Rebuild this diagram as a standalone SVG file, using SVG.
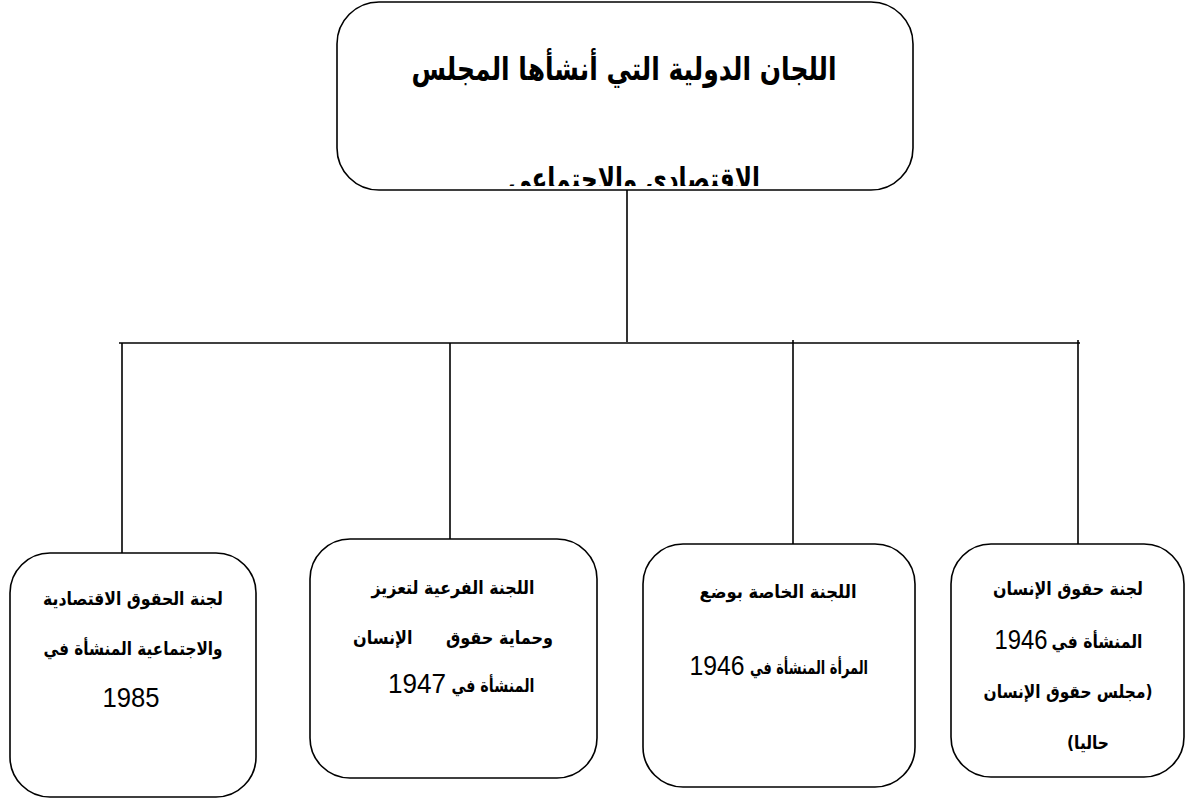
<svg xmlns="http://www.w3.org/2000/svg" width="1189" height="800" viewBox="0 0 1189 800">
<style>
  .box { fill: #ffffff; stroke: #000000; stroke-width: 1.6; }
  .conn line { stroke: #000000; stroke-width: 1.6; }
  .ar { font-family: "DejaVu Sans", sans-serif; font-weight: bold; fill: #000000; text-anchor: middle; direction: rtl; }
  .t { font-size: 32px; }
  .s { font-size: 18px; }
  .num { font-family: "Liberation Sans", "Open Sans", sans-serif; font-weight: normal; font-size: 28px; fill: #000000; text-anchor: middle; }
</style>
<defs>
  <clipPath id="topClip"><rect x="337" y="2" width="576" height="184"/></clipPath>
</defs>
<rect width="1189" height="800" fill="#ffffff"/>

<g id="connectors" class="conn">
  <line x1="627" y1="190" x2="627" y2="342"/>
  <line x1="119" y1="343" x2="1080" y2="343"/>
  <line x1="122" y1="343" x2="122" y2="553"/>
  <line x1="450" y1="343" x2="450" y2="539"/>
  <line x1="793" y1="340" x2="793" y2="544"/>
  <line x1="1078" y1="340" x2="1078" y2="544"/>
</g>

<g id="node-top">
  <rect class="box" x="337" y="2" width="576" height="188" rx="42" ry="42"/>
  <text class="ar t" x="624" y="80" direction="rtl" textLength="425" lengthAdjust="spacingAndGlyphs">اللجان الدولية التي أنشأها المجلس</text>
  <text class="ar t" x="634" y="190" direction="rtl" clip-path="url(#topClip)" textLength="252" lengthAdjust="spacingAndGlyphs">الاقتصادي والاجتماعي</text>
</g>

<g id="node-1985">
  <rect class="box" x="10" y="553" width="246" height="244" rx="40" ry="40"/>
  <text class="ar s" x="133" y="605" direction="rtl" textLength="180" lengthAdjust="spacingAndGlyphs">لجنة الحقوق الاقتصادية</text>
  <text class="ar s" x="133" y="655" direction="rtl" textLength="179" lengthAdjust="spacingAndGlyphs">والاجتماعية المنشأة في</text>
  <text class="num" x="131" y="707" textLength="57" lengthAdjust="spacingAndGlyphs">1985</text>
</g>

<g id="node-1947">
  <rect class="box" x="310" y="539" width="287" height="239" rx="40" ry="40"/>
  <text class="ar s" x="453" y="594" direction="rtl" textLength="163" lengthAdjust="spacingAndGlyphs">اللجنة الفرعية لتعزيز</text>
  <text class="ar s" x="453" y="644" direction="rtl" xml:space="preserve" textLength="200" lengthAdjust="spacingAndGlyphs">وحماية حقوق      الإنسان</text>
  <text class="ar s" x="493" y="692" direction="rtl" textLength="83" lengthAdjust="spacingAndGlyphs">المنشأة في</text>
  <text class="num" x="417" y="693" textLength="58" lengthAdjust="spacingAndGlyphs">1947</text>
</g>

<g id="node-women">
  <rect class="box" x="643" y="544" width="272" height="243" rx="40" ry="40"/>
  <text class="ar s" x="778" y="598" direction="rtl" textLength="157" lengthAdjust="spacingAndGlyphs">اللجنة الخاصة بوضع</text>
  <text class="ar s" x="809" y="674" direction="rtl" textLength="118" lengthAdjust="spacingAndGlyphs">المرأة المنشأة في</text>
  <text class="num" x="717" y="675" textLength="55" lengthAdjust="spacingAndGlyphs">1946</text>
</g>

<g id="node-hr">
  <rect class="box" x="951" y="544" width="233" height="233" rx="40" ry="40"/>
  <text class="ar s" x="1068" y="595" direction="rtl" textLength="150" lengthAdjust="spacingAndGlyphs">لجنة حقوق الإنسان</text>
  <text class="ar s" x="1097" y="648" direction="rtl" textLength="91" lengthAdjust="spacingAndGlyphs">المنشأة في</text>
  <text class="num" x="1021" y="649" textLength="53" lengthAdjust="spacingAndGlyphs">1946</text>
  <text class="ar s" x="1068" y="698" direction="rtl" textLength="169" lengthAdjust="spacingAndGlyphs">(مجلس حقوق الإنسان</text>
  <text class="ar s" x="1088" y="749" direction="rtl" textLength="42" lengthAdjust="spacingAndGlyphs">حاليا)</text>
</g>
</svg>
